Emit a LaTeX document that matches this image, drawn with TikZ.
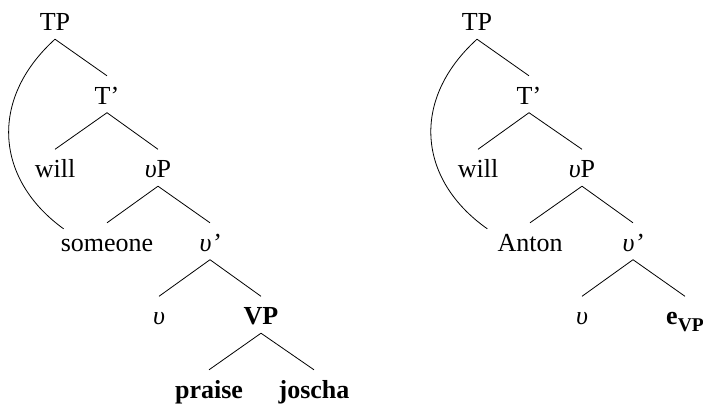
\documentclass[tikz,border=0pt]{standalone}
\usepackage{fontspec}
\setmainfont{Liberation Serif}
\begin{document}
\begin{tikzpicture}[x=1pt,y=-1pt,
  tn/.style={anchor=base, inner sep=0pt, text height=28pt, text depth=8.5pt, font=\fontsize{26}{30}\selectfont},
  edge/.style={line width=0.8pt},
  arc/.style={line width=0.8pt}]
\useasboundingbox (0,0) rectangle (703,405);
% left tree
\node[tn] (tp) at (55,30.5) {TP};
\node[tn] (tb) at (107,104) {T’};
\node[tn] (will) at (55,177.5) {will};
\node[tn] (vp) at (158,177.5) {\textit{υ}P};
\node[tn] (some) at (107,251) {someone};
\node[tn] (vb) at (210,251) {\textit{υ’}};
\node[tn] (v) at (159,324.5) {\textit{υ}};
\node[tn] (VP) at (261,324.5) {\textbf{VP}};
\node[tn] (praise) at (209,398) {\textbf{praise}};
\node[tn] (joscha) at (314,398) {\textbf{joscha}};
\draw[edge] (tp.south) -- (tb.north);
\draw[edge] (tb.south) -- (will.north);
\draw[edge] (tb.south) -- (vp.north);
\draw[edge] (vp.south) -- (some.north);
\draw[edge] (vp.south) -- (vb.north);
\draw[edge] (vb.south) -- (v.north);
\draw[edge] (vb.south) -- (VP.north);
\draw[edge] (VP.south) -- (praise.north);
\draw[edge] (VP.south) -- (joscha.north);
\coordinate (c1) at ([shift={(3pt,-6pt)}]some.north west);
\draw[arc] (tp.south) .. controls (-12,100) and (-4,180) .. (c1);
% right tree
\node[tn] (tp2) at (477,30.5) {TP};
\node[tn] (tb2) at (529,104) {T’};
\node[tn] (will2) at (478,177.5) {will};
\node[tn] (vp2) at (582,177.5) {\textit{υ}P};
\node[tn] (anton) at (530,251) {Anton};
\node[tn] (vb2) at (633,251) {\textit{υ’}};
\node[tn] (v2) at (582,324.5) {\textit{υ}};
\node[tn] (evp) at (685,324.5) {\textbf{e\raisebox{-6.5pt}{\fontsize{19.5}{22}\selectfont VP}}};
\draw[edge] (tp2.south) -- (tb2.north);
\draw[edge] (tb2.south) -- (will2.north);
\draw[edge] (tb2.south) -- (vp2.north);
\draw[edge] (vp2.south) -- (anton.north);
\draw[edge] (vp2.south) -- (vb2.north);
\draw[edge] (vb2.south) -- (v2.north);
\draw[edge] (vb2.south) -- (evp.north);
\coordinate (c2) at ([shift={(-10pt,-6pt)}]anton.north west);
\draw[arc] (tp2.south) .. controls (410,100) and (418,180) .. (c2);
\end{tikzpicture}
\end{document}
